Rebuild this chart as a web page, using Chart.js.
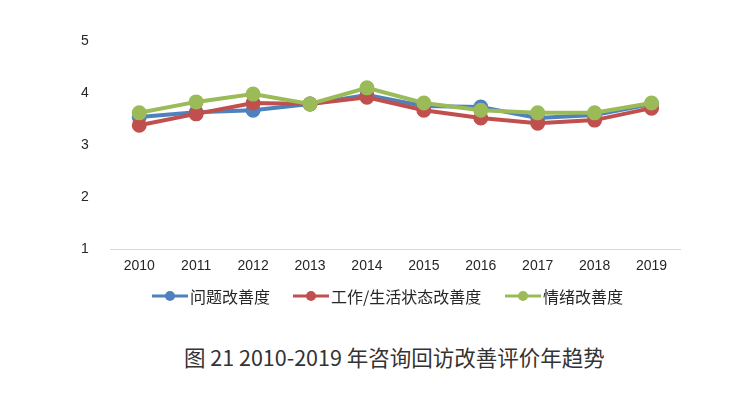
<!DOCTYPE html>
<html>
<head>
<meta charset="utf-8">
<script src="https://cdn.jsdelivr.net/npm/chart.js@4/dist/chart.umd.min.js"></script>
<style>
  html, body { margin: 0; padding: 0; background: #fff; }
  #page { width: 736px; height: 395px; position: relative; overflow: hidden; }
  #wrap { position: absolute; left: 0; top: 0; width: 736px; height: 292px; }
  .legend-item {
    position: absolute; top: 286px; height: 20px;
    display: flex; align-items: center;
    font-family: "Noto Sans CJK SC", sans-serif; font-size: 16px; color: #262626;
    white-space: nowrap;
  }
  .legend-item canvas { margin-right: 2px; }
  #title {
    position: absolute; top: 343px; left: 184px;
    font-family: "Noto Sans CJK SC", sans-serif; font-size: 21.5px; color: #333;
    white-space: nowrap; line-height: 28px;
  }
</style>
</head>
<body>
<div id="page">
  <div id="wrap"><canvas id="chart"></canvas></div>
  <div id="legend"></div>
  <div id="title">图 21 2010-2019 年咨询回访改善评价年趋势</div>
</div>
<script>
// data
const years = ["2010", "2011", "2012", "2013", "2014", "2015", "2016", "2017", "2018", "2019"];
const problemScores = [3.54, 3.63, 3.67, 3.79, 3.96, 3.75, 3.73, 3.52, 3.58, 3.79];
const workLifeScores = [3.38, 3.60, 3.81, 3.79, 3.92, 3.67, 3.52, 3.42, 3.48, 3.71];
const moodScores = [3.62, 3.83, 3.98, 3.79, 4.10, 3.81, 3.67, 3.62, 3.62, 3.81];
const yTicks = [1, 2, 3, 4, 5];

const colors = { blue: "#4F81BD", red: "#C0504D", green: "#9BBB59" };
const legendLeft = [152, 293, 505]; // where each legend entry starts

// small line-with-dot icon for the legend
function legendIcon(color) {
  const c = document.createElement("canvas");
  c.width = 36;
  c.height = 12;
  const g = c.getContext("2d");
  g.strokeStyle = color;
  g.lineWidth = 3;
  g.beginPath();
  g.moveTo(0, 6);
  g.lineTo(36, 6);
  g.stroke();
  g.fillStyle = color;
  g.beginPath();
  g.arc(18, 6, 5, 0, Math.PI * 2);
  g.fill();
  return c;
}

// order: later series sit on top, like the original
const makeSet = (label, data, color, order) => ({
  label,
  data,
  order,
  borderColor: color,
  backgroundColor: color,
  borderWidth: 4,
  pointRadius: 5.5,
  pointHoverRadius: 5.5,
  pointStyle: "circle",
  tension: 0,
});

const datasets = [
  makeSet("问题改善度", problemScores, colors.blue, 3),
  makeSet("工作/生活状态改善度", workLifeScores, colors.red, 2),
  makeSet("情绪改善度", moodScores, colors.green, 1),
];

const tickFont = { family: "Liberation Sans, Arial", size: 14 };

const chart = new Chart(document.getElementById("chart"), {
  type: "line",
  data: { labels: years, datasets },
  options: {
    responsive: true,
    maintainAspectRatio: false,
    animation: false,
    layout: { padding: { top: 41, right: 56, left: 59, bottom: 8 } },
    scales: {
      x: {
        offset: true,
        grid: { display: false, drawTicks: false },
        border: { color: "#d9d9d9", width: 1 },
        ticks: { color: "#262626", font: tickFont, padding: 9 },
      },
      y: {
        min: 1,
        max: 5,
        afterBuildTicks: (axis) => { axis.ticks = yTicks.map((v) => ({ value: v })); },
        grid: { display: false, drawTicks: false },
        border: { display: false },
        ticks: { color: "#262626", font: tickFont, padding: 22 },
      },
    },
    plugins: {
      tooltip: { enabled: false },
      legend: { display: false },
    },
  },
});

// html legend under the chart, built from the datasets
const legendBox = document.getElementById("legend");
datasets.forEach((ds, i) => {
  const item = document.createElement("div");
  item.className = "legend-item";
  item.style.left = legendLeft[i] + "px";
  item.appendChild(legendIcon(ds.borderColor));
  item.appendChild(document.createTextNode(ds.label));
  legendBox.appendChild(item);
});
</script>
</body>
</html>
